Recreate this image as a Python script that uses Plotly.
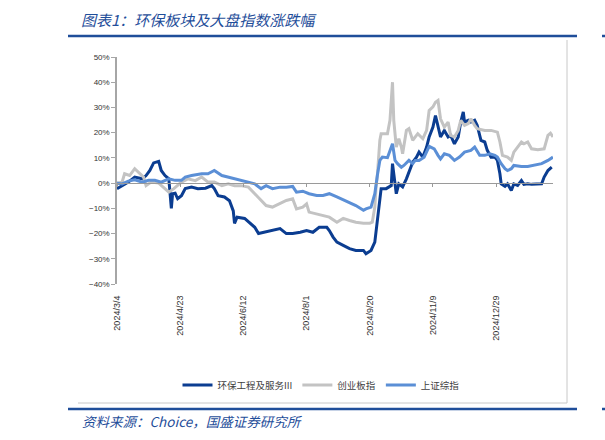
import plotly.graph_objects as go

# ---------------- data ----------------
hb_dates = ["2024-03-04","2024-03-08","2024-03-13","2024-03-18","2024-03-24","2024-03-27","2024-03-30",
            "2024-04-02","2024-04-06","2024-04-08","2024-04-11","2024-04-14","2024-04-15","2024-04-16",
            "2024-04-17","2024-04-19","2024-04-21","2024-04-24","2024-04-27","2024-05-02","2024-05-07",
            "2024-05-13","2024-05-18","2024-05-20","2024-05-23","2024-05-28","2024-06-01","2024-06-04",
            "2024-06-05","2024-06-07","2024-06-13","2024-06-18","2024-06-21","2024-06-24","2024-06-29",
            "2024-07-05","2024-07-11","2024-07-16","2024-07-21","2024-07-27","2024-08-01","2024-08-06",
            "2024-08-11","2024-08-17","2024-08-19","2024-08-22","2024-08-25","2024-08-30","2024-09-04",
            "2024-09-09","2024-09-15","2024-09-17","2024-09-21","2024-09-24","2024-09-26","2024-09-28",
            "2024-09-29","2024-10-03","2024-10-07","2024-10-08","2024-10-10","2024-10-11","2024-10-13",
            "2024-10-16","2024-10-19","2024-10-21","2024-10-24","2024-10-27","2024-10-29","2024-11-01",
            "2024-11-04","2024-11-06","2024-11-09","2024-11-11","2024-11-13","2024-11-15","2024-11-18",
            "2024-11-21","2024-11-23","2024-11-26","2024-11-29","2024-12-01","2024-12-03","2024-12-04",
            "2024-12-07","2024-12-09","2024-12-12","2024-12-14","2024-12-17","2024-12-20","2024-12-22",
            "2024-12-25","2024-12-28","2024-12-30","2025-01-01","2025-01-02","2025-01-05","2025-01-07",
            "2025-01-10","2025-01-12","2025-01-15","2025-01-18","2025-01-20","2025-01-23","2025-01-26",
            "2025-01-31","2025-02-03","2025-02-05","2025-02-08","2025-02-11"]
hb_values = [-2.2,-1.0,0.4,2.4,1.7,3.0,5.0,
             8.0,8.6,5.0,3.0,1.7,-3.6,-10.0,
             -4.2,-4.0,-6.2,-5.0,-2.2,-1.6,-2.2,
             -2.0,-1.0,-2.2,-5.0,-5.5,-7.0,-11.0,
             -16.0,-13.5,-14.0,-16.0,-17.5,-20.0,-19.5,
             -18.8,-18.0,-20.0,-20.0,-19.5,-18.8,-19.5,
             -17.5,-17.5,-18.8,-21.4,-23.4,-24.7,-26.0,
             -26.7,-26.7,-28.0,-26.7,-23.4,-14.8,-6.9,
             -2.2,-2.2,-1.0,7.7,-1.6,-4.2,-0.3,
             -1.5,1.7,4.5,8.3,10.3,12.3,10.3,
             14.3,18.3,22.2,26.8,22.9,18.3,20.9,
             18.3,18.9,15.6,18.3,24.2,28.2,24.2,
             24.9,24.2,24.9,22.9,16.9,16.3,13.0,
             10.3,10.3,9.0,3.7,-0.3,-1.3,-0.3,
             -2.9,-0.3,-0.9,1.0,-0.5,-0.3,-0.5,
             -0.5,-0.3,2.4,5.0,6.3]

cyb_dates = ["2024-03-04","2024-03-08","2024-03-10","2024-03-14","2024-03-18","2024-03-21","2024-03-25",
             "2024-03-27","2024-03-31","2024-04-06","2024-04-11","2024-04-14","2024-04-18","2024-04-21",
             "2024-04-24","2024-04-29","2024-05-05","2024-05-10","2024-05-15","2024-05-20","2024-05-26",
             "2024-05-31","2024-06-05","2024-06-10","2024-06-16","2024-06-21","2024-06-26","2024-06-30",
             "2024-07-05","2024-07-11","2024-07-16","2024-07-21","2024-07-24","2024-07-29","2024-08-01",
             "2024-08-03","2024-08-09","2024-08-14","2024-08-19","2024-08-25","2024-08-30","2024-09-04",
             "2024-09-09","2024-09-15","2024-09-20","2024-09-22","2024-09-24","2024-09-25","2024-09-26",
             "2024-09-28","2024-09-29","2024-10-04","2024-10-06","2024-10-08","2024-10-09","2024-10-11",
             "2024-10-13","2024-10-15","2024-10-16","2024-10-19","2024-10-21","2024-10-24","2024-10-28",
             "2024-11-01","2024-11-04","2024-11-06","2024-11-09","2024-11-11","2024-11-13","2024-11-15",
             "2024-11-18","2024-11-21","2024-11-23","2024-11-26","2024-11-29","2024-12-01","2024-12-04",
             "2024-12-07","2024-12-09","2024-12-12","2024-12-14","2024-12-20","2024-12-25","2024-12-30",
             "2025-01-01","2025-01-03","2025-01-07","2025-01-10","2025-01-12","2025-01-15","2025-01-18",
             "2025-01-20","2025-01-23","2025-01-26","2025-01-31","2025-02-05","2025-02-08","2025-02-10",
             "2025-02-12"]
cyb_values = [0.0,0.4,3.7,3.0,5.7,4.4,2.4,
              -1.0,0.4,0.0,-2.2,-3.6,-2.2,-1.0,
              0.4,1.7,1.0,2.4,0.4,0.4,-1.0,
              -0.3,-1.0,-1.0,-1.6,-4.2,-6.9,-8.9,
              -9.5,-8.2,-6.9,-6.2,-10.2,-9.5,-8.2,
              -11.5,-12.2,-12.8,-13.5,-15.5,-14.0,-14.8,
              -15.5,-15.9,-15.9,-15.5,-9.5,-1.6,3.0,
              17.0,19.6,19.6,24.9,40.0,24.9,14.3,
              17.6,14.3,11.6,20.9,21.6,17.0,19.6,
              17.6,20.9,28.8,30.2,32.1,32.8,25.5,
              22.2,24.2,18.9,18.3,20.9,24.9,22.9,
              23.6,25.5,22.9,21.6,20.9,20.9,20.2,
              16.3,11.0,10.3,9.0,12.3,14.3,16.3,
              15.6,16.3,13.6,13.2,13.6,18.9,19.8,
              18.3]

sz_dates = ["2024-03-04","2024-03-08","2024-03-13","2024-03-18","2024-03-24","2024-03-29","2024-04-03",
            "2024-04-08","2024-04-14","2024-04-19","2024-04-24","2024-04-27","2024-05-02","2024-05-10",
            "2024-05-15","2024-05-20","2024-05-26","2024-05-31","2024-06-05","2024-06-10","2024-06-16",
            "2024-06-21","2024-06-26","2024-06-30","2024-07-05","2024-07-11","2024-07-16","2024-07-21",
            "2024-07-24","2024-07-29","2024-08-03","2024-08-09","2024-08-14","2024-08-19","2024-08-25",
            "2024-08-30","2024-09-04","2024-09-09","2024-09-15","2024-09-17","2024-09-21","2024-09-24",
            "2024-09-26","2024-09-28","2024-09-30","2024-10-04","2024-10-08","2024-10-10","2024-10-12",
            "2024-10-15","2024-10-17","2024-10-21","2024-10-24","2024-10-26","2024-10-29","2024-11-02",
            "2024-11-06","2024-11-10","2024-11-13","2024-11-15","2024-11-18","2024-11-22","2024-11-26",
            "2024-11-30","2024-12-04","2024-12-09","2024-12-12","2024-12-16","2024-12-20","2024-12-24",
            "2024-12-28","2024-12-30","2025-01-02","2025-01-05","2025-01-07","2025-01-10","2025-01-12",
            "2025-01-18","2025-01-23","2025-01-28","2025-02-03","2025-02-08","2025-02-12"]
sz_values = [0.0,-0.3,0.8,1.3,0.4,1.1,1.1,
             0.4,1.7,1.1,1.1,2.4,3.0,3.7,
             3.7,5.0,3.0,2.4,1.7,1.1,0.4,
             -0.3,-2.2,-1.0,-2.2,-1.6,-1.6,-1.3,
             -3.6,-3.2,-4.2,-4.9,-4.9,-4.2,-5.5,
             -6.6,-7.5,-8.9,-10.8,-10.2,-9.5,-4.2,
             3.0,9.0,10.3,10.1,15.6,9.0,7.7,
             6.3,7.0,9.0,7.7,9.0,9.0,10.3,
             14.6,13.6,11.0,9.6,11.6,11.0,9.0,
             10.3,12.3,13.0,14.3,11.0,11.0,11.6,
             11.0,10.3,7.7,5.7,5.0,5.7,7.0,
             6.6,6.6,7.0,7.7,9.0,10.3]

series_names = ["环保工程及服务III", "创业板指", "上证综指"]
x_tick_vals = ["2024-03-04","2024-04-23","2024-06-12","2024-08-01","2024-09-20","2024-11-09","2024-12-29"]
x_tick_text = ["2024/3/4","2024/4/23","2024/6/12","2024/8/1","2024/9/20","2024/11/9","2024/12/29"]
y_tick_vals = [50, 40, 30, 20, 10, 0, -10, -20, -30, -40]
y_tick_text = ["50%", "40%", "30%", "20%", "10%", "0%", "\u221210%", "\u221220%", "\u221230%", "\u221240%"]
x_range = ["2024-03-04", "2025-02-12"]
y_range = [-40, 50]

title_text = "图表1：环保板块及大盘指数涨跌幅"
source_text = "资料来源：Choice，国盛证券研究所"

# ---------------- styling ----------------
W, H = 605, 440
L, R, T, B = 117, 52, 57, 156
PW, PH = W - L - R, H - T - B

def px(x):
    return (x - L) / PW

def py(y):
    return (H - B - y) / PH

DARK = "#0b3d91"
GRAY = "#c3c3c3"
LIGHT = "#5b8fd6"
HEAD = "#1f4e9a"

fig = go.Figure()
fig.add_trace(go.Scatter(x=hb_dates, y=hb_values, name=series_names[0], mode="lines",
                         line=dict(color=DARK, width=3)))
fig.add_trace(go.Scatter(x=cyb_dates, y=cyb_values, name=series_names[1], mode="lines",
                         line=dict(color=GRAY, width=3)))
fig.add_trace(go.Scatter(x=sz_dates, y=sz_values, name=series_names[2], mode="lines",
                         line=dict(color=LIGHT, width=3)))
# helper trace so the zero-crossing category axis is drawn
fig.add_trace(go.Scatter(x=[x_range[0]], y=[None], xaxis="x2", yaxis="y", mode="lines",
                         showlegend=False, hoverinfo="skip"))

fig.update_layout(
    width=W, height=H,
    margin=dict(l=L, r=R, t=T, b=B),
    paper_bgcolor="white", plot_bgcolor="white",
    font=dict(family="Liberation Sans, Arial, sans-serif", color="#333333"),
    showlegend=True,
    legend=dict(orientation="h", x=px(321), y=py(385), xanchor="center", yanchor="middle",
                font=dict(family="Noto Sans CJK SC", size=9.5, color="#404040"),
                itemwidth=30, tracegroupgap=0, bgcolor="rgba(0,0,0,0)"),
    xaxis=dict(type="date", range=x_range, tickvals=x_tick_vals, ticktext=x_tick_text,
               tickangle=-90, ticks="outside", ticklen=7, tickcolor="rgba(0,0,0,0)",
               showline=False, showgrid=False, zeroline=False,
               tickfont=dict(size=9, color="#333333")),
    xaxis2=dict(type="date", range=x_range, overlaying="x", anchor="free",
                position=(0 - y_range[0]) / (y_range[1] - y_range[0]),
                tickvals=x_tick_vals, showticklabels=False, ticks="outside", ticklen=3,
                tickcolor="#9a9a9a", showline=True, linecolor="#9a9a9a", linewidth=1,
                showgrid=False, zeroline=False),
    yaxis=dict(range=y_range, tickvals=y_tick_vals, ticktext=y_tick_text, ticks="outside", ticklen=4,
               tickcolor="#a6a6a6", showline=True, linecolor="#a6a6a6", linewidth=1.5,
               showgrid=False, zeroline=False, tickfont=dict(size=8, color="#333333")),
)

shapes = []
# header and footer rules
for yy in (36, 409):
    shapes.append(dict(type="line", xref="paper", yref="paper", x0=px(68), x1=px(577),
                       y0=py(yy), y1=py(yy), line=dict(color=HEAD, width=2.5)))
    shapes.append(dict(type="line", xref="paper", yref="paper", x0=px(602), x1=px(606),
                       y0=py(yy), y1=py(yy), line=dict(color=HEAD, width=2.5)))
# chart frame (right and bottom)
shapes.append(dict(type="line", xref="paper", yref="paper", x0=px(567), x1=px(567),
                   y0=py(40), y1=py(403), line=dict(color="#c8c8c8", width=1)))
shapes.append(dict(type="line", xref="paper", yref="paper", x0=px(78), x1=px(567),
                   y0=py(403), y1=py(403), line=dict(color="#c8c8c8", width=1)))
fig.update_layout(shapes=shapes)

fig.add_annotation(text="<i>" + title_text + "</i>", xref="paper", yref="paper",
                   x=px(79), y=py(19), xanchor="left", yanchor="middle", showarrow=False,
                   font=dict(family="Noto Sans CJK SC", size=15, color=HEAD))
fig.add_annotation(text="<i>" + source_text + "</i>", xref="paper", yref="paper",
                   x=px(80), y=py(421), xanchor="left", yanchor="middle", showarrow=False,
                   font=dict(family="Noto Sans CJK SC", size=13.5, color=HEAD))

fig.write_html("out.html")
